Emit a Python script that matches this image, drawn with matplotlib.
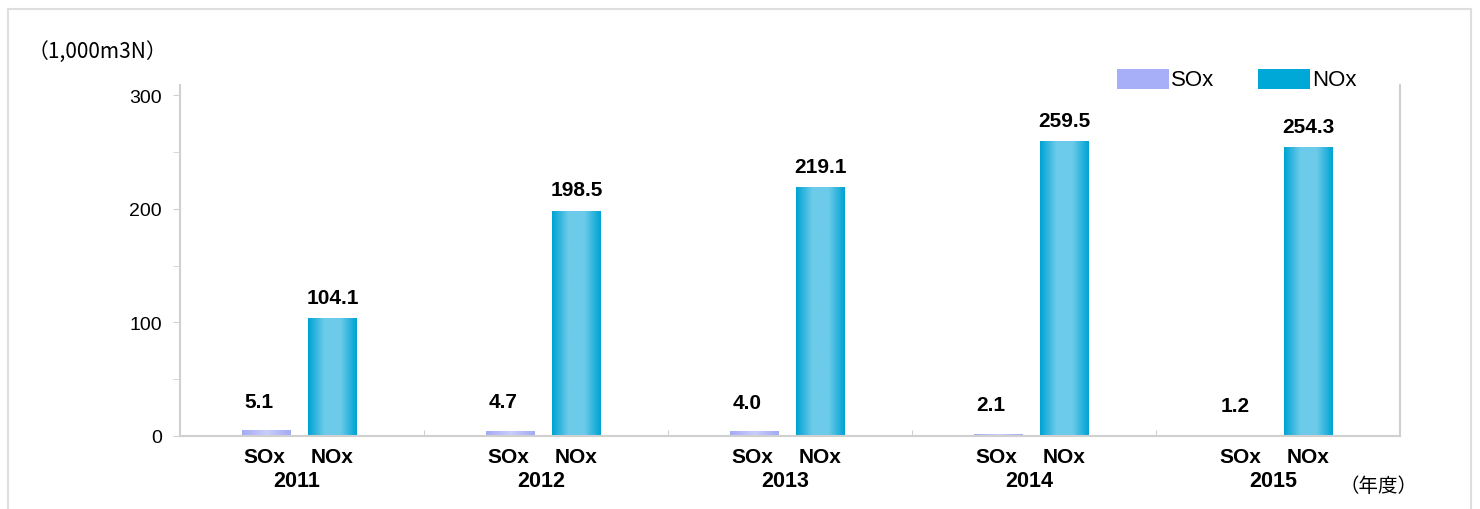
import numpy as np
import matplotlib
matplotlib.use("Agg")
import matplotlib.pyplot as plt
from matplotlib.patches import Rectangle
from matplotlib.colors import LinearSegmentedColormap

plt.rcParams['font.family'] = ['Liberation Sans', 'Noto Sans CJK JP', 'DejaVu Sans']

years = ['2011', '2012', '2013', '2014', '2015']
sox = [5.1, 4.7, 4.0, 2.1, 1.2]
nox = [104.1, 198.5, 219.1, 259.5, 254.3]
series_names = ['SOx', 'NOx']

sox_cmap = LinearSegmentedColormap.from_list('sox', ['#a3abf4', '#c9cefb', '#a3abf4'])
nox_cmap = LinearSegmentedColormap.from_list('nox', ['#00a3d4', '#6dcbea', '#6dcbea', '#00a3d4'])

fig = plt.figure(figsize=(14.8, 5.1), dpi=100)
# light frame round the whole chart
fig.patches.append(Rectangle((8 / 1480, -0.1), 1463 / 1480, 1.1 - 10 / 510,
                             transform=fig.transFigure, fill=False,
                             edgecolor='#dedede', linewidth=1.5))
ax = fig.add_axes([180 / 1480, 73 / 510, 1220 / 1480, 351 / 510])

x = np.arange(len(years))
width = 0.2
off = 0.135


def gradient_bars(xs, vals, cmap):
    grad = np.linspace(0, 1, 64).reshape(1, -1)
    for xi, v in zip(xs, vals):
        im = ax.imshow(grad, cmap=cmap, aspect='auto', zorder=2,
                       extent=(xi - width / 2, xi + width / 2, 0, v))
        r = Rectangle((xi - width / 2, 0), width, v, transform=ax.transData,
                      facecolor='none', edgecolor='none')
        ax.add_patch(r)
        im.set_clip_path(r)


gradient_bars(x - off - 0.01, sox, sox_cmap)
gradient_bars(x + off - 0.01, nox, nox_cmap)

for xi, v in zip(x - off, sox):
    ax.annotate(f'{v:.1f}', (xi - 0.04, v), xytext=(0, 14), textcoords='offset points',
                ha='center', va='bottom', fontsize=15, fontweight='bold')
for xi, v in zip(x + off - 0.01, nox):
    ax.annotate(f'{v:.1f}', (xi, v), xytext=(0, 8), textcoords='offset points',
                ha='center', va='bottom', fontsize=15, fontweight='bold')

ax.set_xlim(-0.5, len(years) - 0.5)
ax.set_ylim(0, 309)
ax.set_yticks([0, 100, 200, 300])
ax.set_yticks([50, 150, 250], minor=True)
ax.set_xticks(np.arange(len(years) + 1) - 0.5)
ax.set_xticklabels([])
ax.tick_params(axis='y', which='both', length=5, color='#d0d0d0', labelsize=14, pad=8)
ax.tick_params(axis='x', length=4, color='#d0d0d0', direction='in')
for s in ['left', 'bottom', 'right']:
    ax.spines[s].set_color('#d0d0d0')
    ax.spines[s].set_linewidth(1.5)
ax.spines['top'].set_visible(False)

# category labels under each group
trans = ax.get_xaxis_transform()
for i, yr in enumerate(years):
    ax.text(i - off - 0.02, -0.058, series_names[0], transform=trans, ha='center', va='center',
            fontsize=15, fontweight='bold')
    ax.text(i + off - 0.01, -0.058, series_names[1], transform=trans, ha='center', va='center',
            fontsize=15, fontweight='bold')
    ax.text(i - 0.02, -0.128, yr, transform=trans, ha='center', va='center',
            fontsize=15.5, fontweight='bold')
ax.text(4.41, -0.142, '（年度）', transform=trans, ha='center', va='center', fontsize=14,
        family=['Noto Sans CJK JP'])

fig.text(28 / 1480, 1 - 52 / 510, '（1,000m3N）', ha='left', va='center', fontsize=15,
         family=['Noto Sans CJK JP', 'DejaVu Sans'])

# legend
for lx, name, col in [(1117, series_names[0], '#a6aff7'), (1258, series_names[1], '#00a8d8')]:
    fig.patches.append(Rectangle((lx / 1480, 1 - 90 / 510), 52 / 1480, 20 / 510,
                                 transform=fig.transFigure, facecolor=col, edgecolor='none'))
    fig.text((lx + 54) / 1480, 1 - 80 / 510, name, ha='left', va='center', fontsize=16)

fig.savefig('out.png', dpi=100)
